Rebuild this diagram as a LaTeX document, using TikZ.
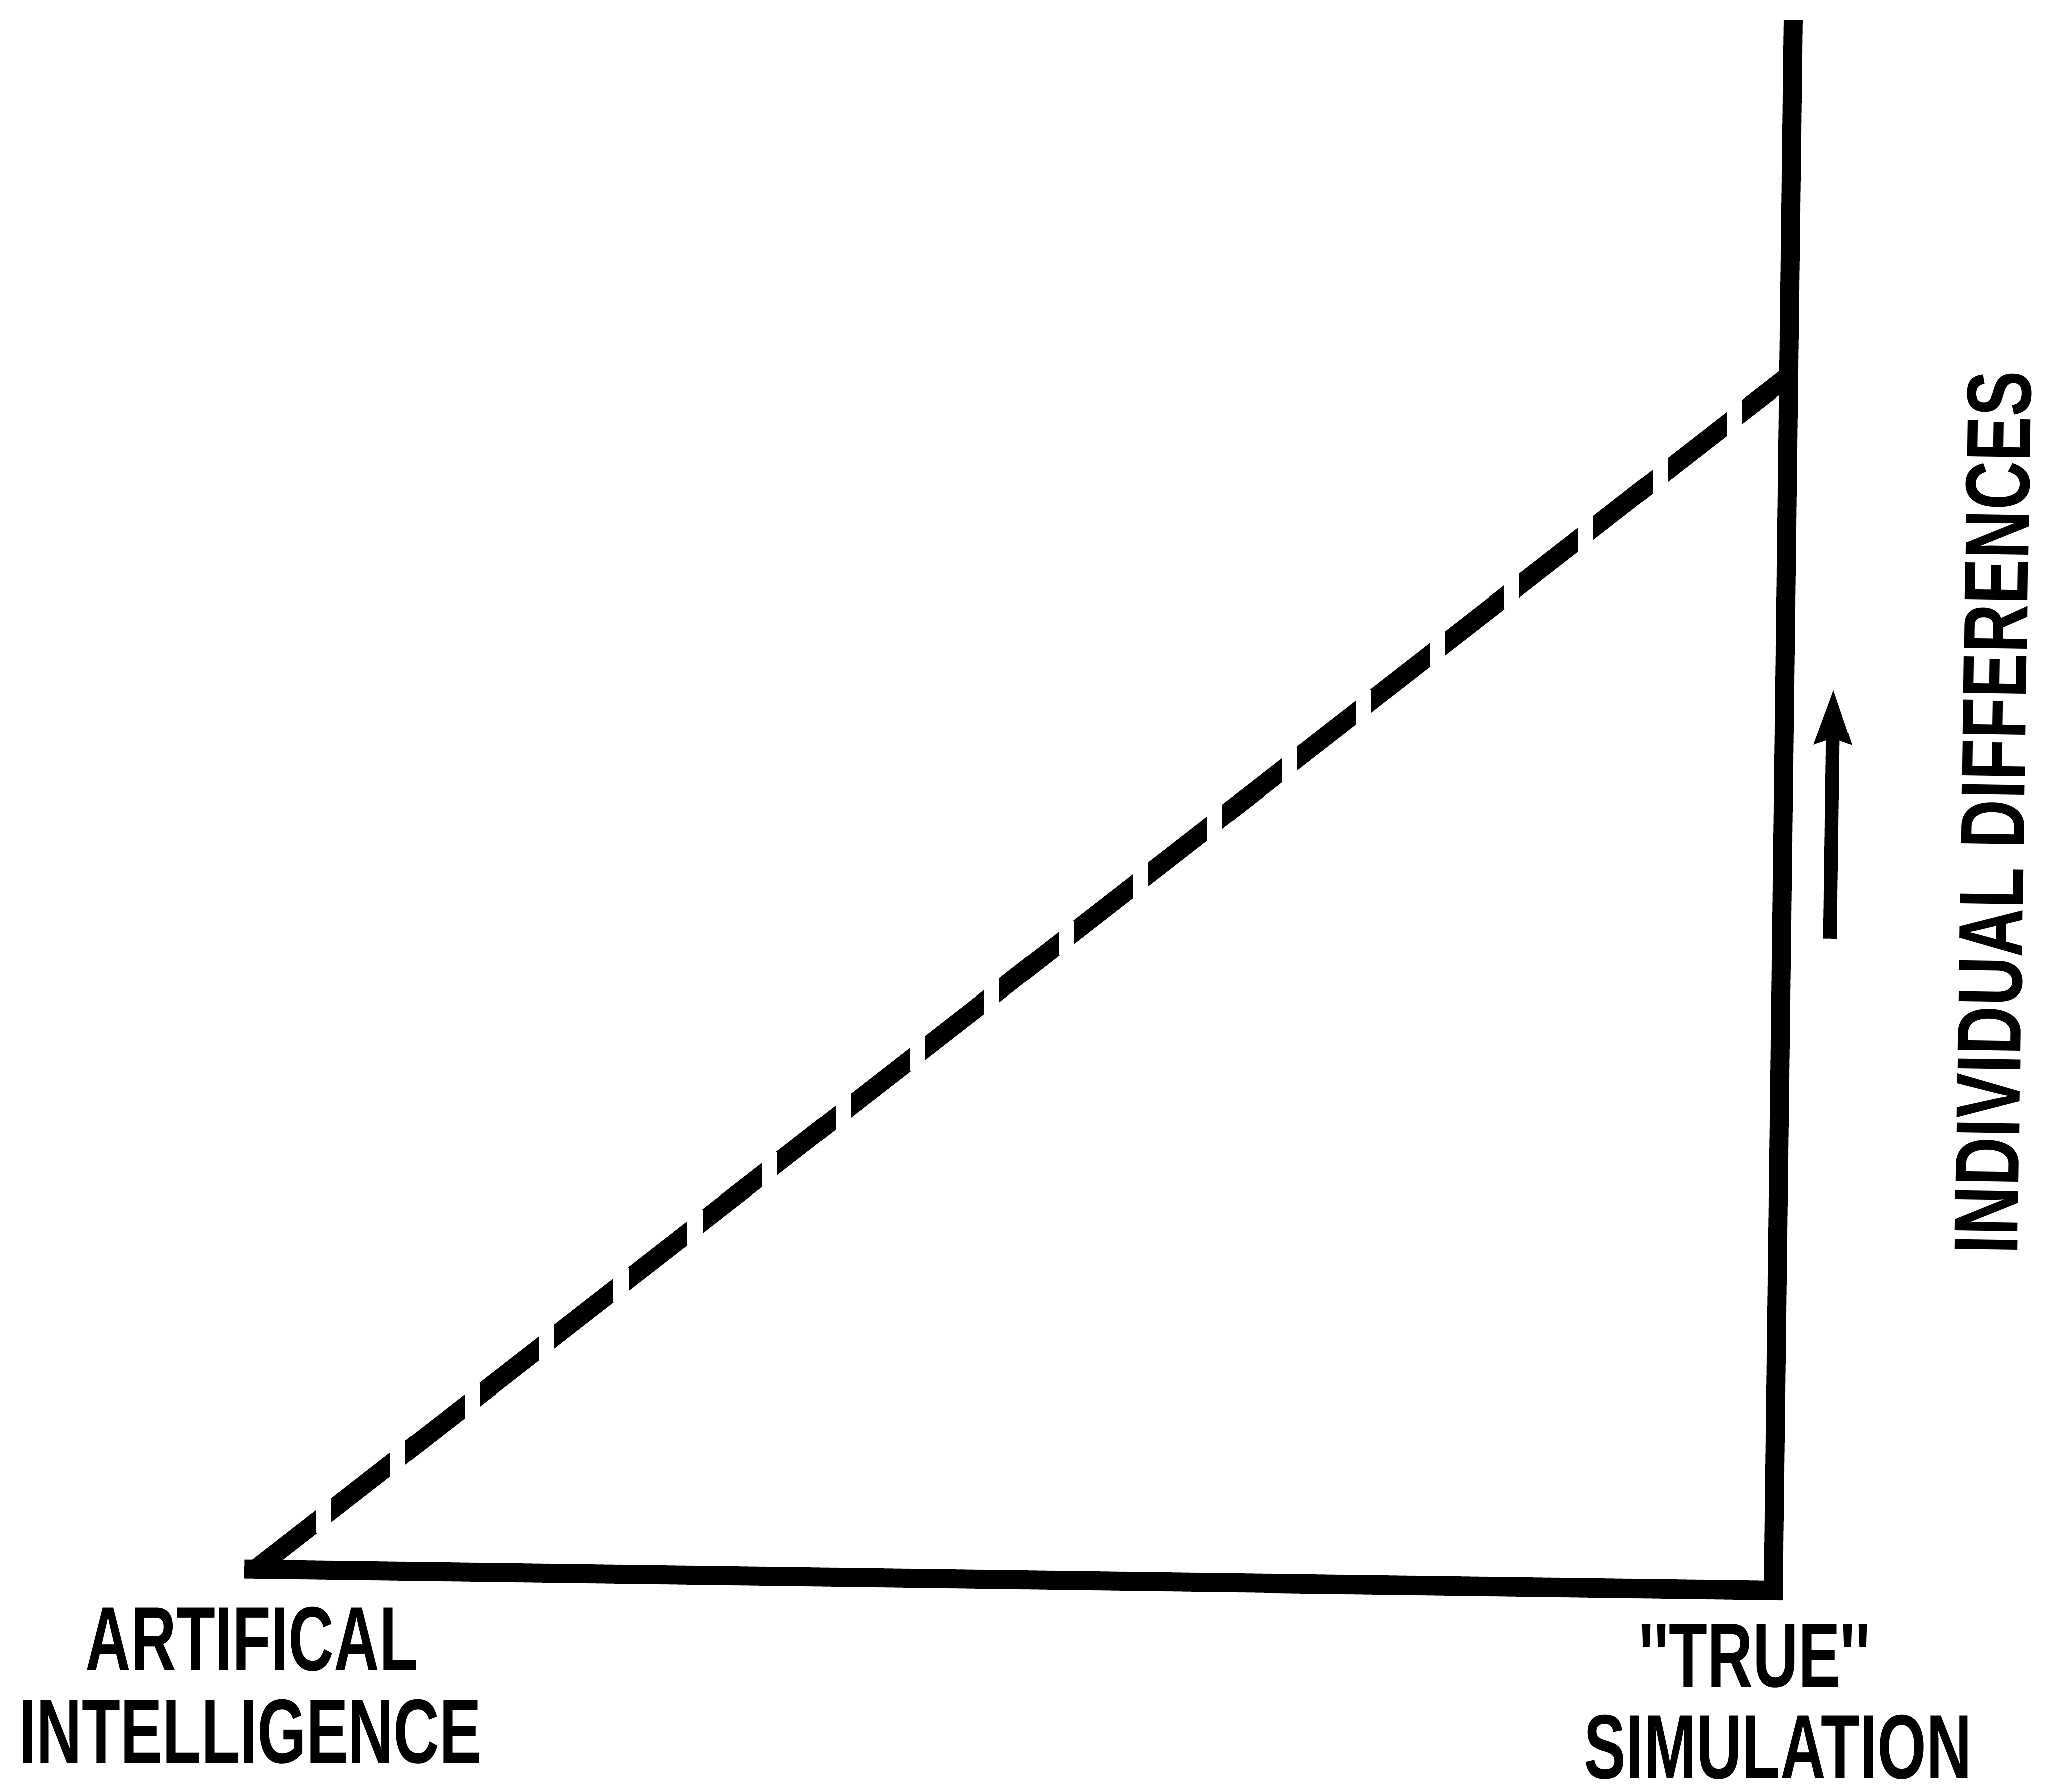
\documentclass[tikz,border=0pt]{standalone}
\usepackage{fontspec}
\newfontfamily\lettering[FakeStretch=0.69]{Liberation Sans}
\newfontfamily\letteringup[FakeStretch=0.74]{Liberation Sans}
\usetikzlibrary{arrows.meta, calc}
\tikzset{
  axis/.style={draw=black, line width=6mm, line join=miter, line cap=butt},
  slope/.style={draw=black, line width=6mm, line cap=butt},
  gap/.style={fill=white, draw=none},
  rise/.style={draw=black, line width=4.3mm,
               -{Stealth[length=17mm, width=11mm, inset=1.5mm]}},
  lbl/.style={font=\lettering\bfseries\fontsize{82}{86}\selectfont,
              inner sep=0pt, text=black},
  lblup/.style={lbl, font=\letteringup\bfseries\fontsize{82}{86}\selectfont},
}
\begin{document}
\begin{tikzpicture}[x=1cm, y=1cm]
  \useasboundingbox (0,0) rectangle (64.74,56.5);

  \coordinate (ai)  at (8.11,7.06);
  \coordinate (lft) at (7.70,7.02);
  \coordinate (ts)  at (55.92,6.35);
  \coordinate (top) at (56.55,55.87);
  \coordinate (jn)  at (56.43,44.67);

  % axes
  \draw[axis] (lft) -- (ts) -- (top);
  \draw[slope] (ai) -- (jn);
  % dashes cut square to the page
  \foreach \k in {0,...,19}
    \fill[gap] ($(ai)!{2.662cm+\k*2.967cm}!(jn)$) ++(-0.24,-0.55) rectangle ++(0.48,1.1);

  % arrow beside the axis
  \coordinate (up0) at (57.71,26.90);
  \coordinate (up1) at (57.82,34.78);
  \draw[rise] (up0) -- (up1);

  \node[lbl, anchor=base] (art)   at (7.94,3.83) {ARTIFICAL};
  \node[lbl, anchor=base] (intel) at (7.89,0.90) {INTELLIGENCE};
  \node[lbl, anchor=base] (true)  at (55.33,3.30) {''TRUE''};
  \node[lbl, anchor=base] (simu)  at (56.07,0.42) {SIMULATION};
  \node[lblup, rotate=89.1] (indiv) at (62.85,30.88) {INDIVIDUAL DIFFERENCES};

\end{tikzpicture}
\end{document}
